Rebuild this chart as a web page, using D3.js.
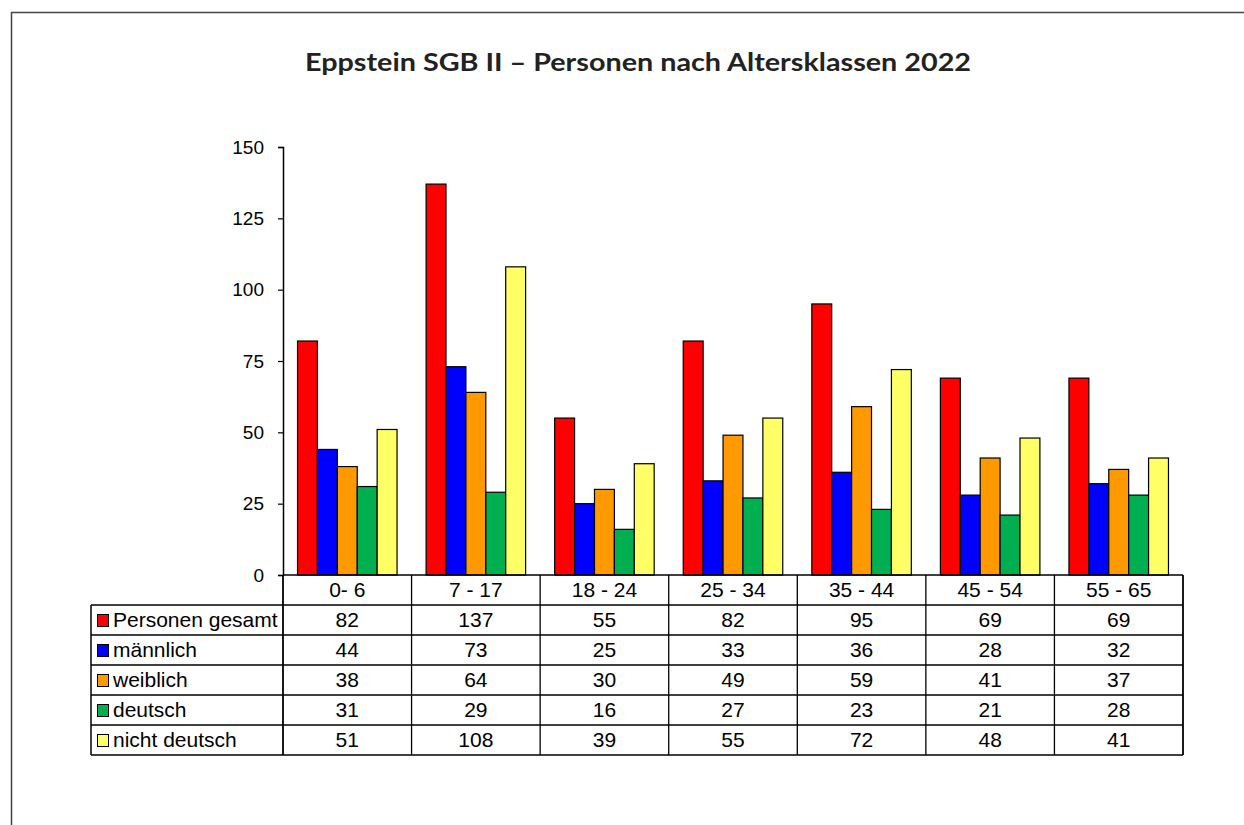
<!DOCTYPE html>
<html>
<head>
<meta charset="utf-8">
<script src="https://cdn.jsdelivr.net/npm/d3@7"></script>
<style>
  html, body { margin: 0; padding: 0; background: #fff; }
  svg { display: block; }
</style>
</head>
<body>
<svg id="chart" width="1244" height="825"></svg>
<script>
// Age groups (x categories)
const categories = ["0- 6", "7 - 17", "18 - 24", "25 - 34", "35 - 44", "45 - 54", "55 - 65"];
// Series names
const seriesNames = ["Personen gesamt", "männlich", "weiblich", "deutsch", "nicht deutsch"];
// Series values per age group
const gesamt     = [82, 137, 55, 82, 95, 69, 69];
const maennlich  = [44, 73, 25, 33, 36, 28, 32];
const weiblich   = [38, 64, 30, 49, 59, 41, 37];
const deutsch    = [31, 29, 16, 27, 23, 21, 28];
const nichtDeut  = [51, 108, 39, 55, 72, 48, 41];
const seriesValues = [gesamt, maennlich, weiblich, deutsch, nichtDeut];
const seriesColors = ["#FF0000", "#0000FF", "#FF9900", "#00B050", "#FFFF66"];
// Y axis ticks
const yTicks = [0, 25, 50, 75, 100, 125, 150];

const svg = d3.select("#chart");

// Outer frame
svg.append("rect")
  .attr("x", 11.5).attr("y", 12.5)
  .attr("width", 1400).attr("height", 1000)
  .attr("fill", "none").attr("stroke", "#444").attr("stroke-width", 1.5);

// Title
svg.append("text")
  .attr("x", 638).attr("y", 71)
  .attr("text-anchor", "middle")
  .attr("font-family", "Lato, 'DejaVu Sans', sans-serif")
  .attr("font-weight", "bold")
  .attr("font-size", 24)
  .attr("fill", "#222")
  .attr("textLength", 666)
  .attr("lengthAdjust", "spacingAndGlyphs")
  .text("Eppstein SGB II – Personen nach Altersklassen 2022");

const plotLeft = 283, plotRight = 1183;
const plotTop = 147, plotBottom = 575;

const x = d3.scaleBand().domain(categories).range([plotLeft, plotRight]).paddingInner(0).paddingOuter(0);
const inner = d3.scaleBand().domain(seriesNames)
  .range([0, x.bandwidth()]).paddingOuter(0.73).paddingInner(0);
const y = d3.scaleLinear().domain([0, 150]).range([plotBottom, plotTop]);

// Bars
const groups = svg.append("g").selectAll("g")
  .data(categories)
  .join("g")
  .attr("transform", c => `translate(${x(c)},0)`);

groups.selectAll("rect")
  .data((c, ci) => seriesNames.map((s, si) => ({ s, si, v: seriesValues[si][ci] })))
  .join("rect")
  .attr("x", d => inner(d.s))
  .attr("y", d => y(d.v))
  .attr("width", inner.bandwidth())
  .attr("height", d => y(0) - y(d.v))
  .attr("fill", d => seriesColors[d.si])
  .attr("stroke", "#000")
  .attr("stroke-width", 1.2);

const font = "'Liberation Sans', Arial, sans-serif";

// Y axis
const yAxis = d3.axisLeft(y).tickValues(yTicks).tickSize(5).tickPadding(14);
const ya = svg.append("g")
  .attr("transform", `translate(${plotLeft},0)`)
  .call(yAxis);
ya.select(".domain").attr("stroke", "#000").attr("stroke-width", 1.5);
ya.selectAll(".tick line").attr("stroke", "#000").attr("stroke-width", 1.2);
ya.selectAll(".tick text")
  .attr("font-family", font)
  .attr("font-size", 19)
  .attr("fill", "#000");

// Data table
const tableLeft = 91;
const headerTop = plotBottom, headerBottom = 605;
const rowH = 30;
const tbl = svg.append("g");
const fs = 21;

// Category header row
categories.forEach(c => {
  tbl.append("text")
    .attr("x", x(c) + x.bandwidth() / 2)
    .attr("y", headerTop + 22)
    .attr("text-anchor", "middle")
    .attr("font-family", font).attr("font-size", fs)
    .text(c);
});

// Series rows
seriesNames.forEach((s, si) => {
  const top = headerBottom + si * rowH;
  tbl.append("rect")
    .attr("x", tableLeft + 6.5).attr("y", top + 9.5)
    .attr("width", 11).attr("height", 12)
    .attr("fill", seriesColors[si]).attr("stroke", "#000").attr("stroke-width", 1);
  tbl.append("text")
    .attr("x", tableLeft + 22).attr("y", top + 22)
    .attr("font-family", font).attr("font-size", fs)
    .text(s);
  categories.forEach((c, ci) => {
    tbl.append("text")
      .attr("x", x(c) + x.bandwidth() / 2)
      .attr("y", top + 22)
      .attr("text-anchor", "middle")
      .attr("font-family", font).attr("font-size", fs)
      .text(seriesValues[si][ci]);
  });
});

const tableBottom = headerBottom + seriesNames.length * rowH;
const line = (x1, y1, x2, y2, w) => tbl.append("line")
  .attr("x1", x1).attr("y1", y1).attr("x2", x2).attr("y2", y2)
  .attr("stroke", "#000").attr("stroke-width", w);

// Horizontal lines
line(plotLeft, headerTop, plotRight, headerTop, 1.5);
line(tableLeft, headerBottom, plotRight, headerBottom, 1.5);
for (let i = 1; i < seriesNames.length; i++) {
  line(tableLeft, headerBottom + i * rowH, plotRight, headerBottom + i * rowH, 1.3);
}
line(tableLeft, tableBottom, plotRight, tableBottom, 1.5);
// Vertical lines
line(tableLeft, headerBottom, tableLeft, tableBottom, 1.5);
line(plotLeft, headerTop, plotLeft, tableBottom, 1.8);
categories.forEach((c, ci) => {
  if (ci > 0) line(x(c), headerTop, x(c), tableBottom, 1.3);
});
line(plotRight, headerTop, plotRight, tableBottom, 1.8);
</script>
</body>
</html>
